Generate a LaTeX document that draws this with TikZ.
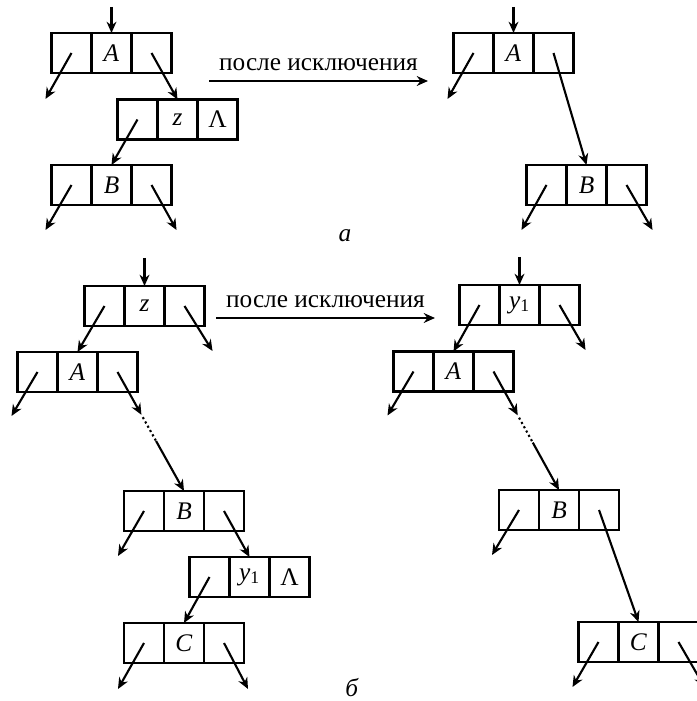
\documentclass[tikz,border=0pt]{standalone}
\usepackage{fontspec}
\setmainfont{Liberation Serif}
\usetikzlibrary{arrows.meta,positioning,calc}

% one list element: three cells, name, position, key, right cell text
\newcommand{\listnode}[4][]{%
  \node[cell] (#2m) at (#3) {#4};
  \node[cell,left=0pt of #2m] (#2l) {};
  \node[cell,right=0pt of #2m] (#2r) {#1};}

\begin{document}
\begin{tikzpicture}[x=0.025cm,y=-0.025cm,line width=1.5pt,
  cell/.style={draw,minimum size=1cm,outer sep=0pt,inner sep=0pt,font=\fontsize{18}{20}\selectfont},
  ptr/.style={-{Stealth[length=8pt,width=7pt]}},
  every node/.append style={font=\fontsize{18}{21}\selectfont}]
  \useasboundingbox (0,0) rectangle (696,701);

  % (a) before
  \listnode{pa}{111.5,53}{\textit{A}}
  \listnode[Λ]{pz}{177.5,119.5}{\textit{z}}
  \listnode{pb}{111.5,185}{\textit{B}}
  \draw[ptr] ([yshift=0.65cm]pam.north) -- (pam.north);
  \draw[ptr] (pal.center) -- ++(-26,46);
  \draw[ptr] (par.center) -- (pzm.north);
  \draw[ptr] (pzl.center) -- (pbm.north);
  \draw[ptr] (pbl.center) -- ++(-26,45);
  \draw[ptr] (pbr.center) -- ++(25,45);

  \coordinate (t1) at (209,81);
  \coordinate (t2) at (428,81);
  \draw[ptr] (t1) -- node[above=3pt] (ex1) {после исключения} (t2);

  % (a) after
  \listnode{qa}{513.5,53}{\textit{A}}
  \listnode{qb}{586.5,185}{\textit{B}}
  \draw[ptr] ([yshift=0.65cm]qam.north) -- (qam.north);
  \draw[ptr] (qal.center) -- ++(-26,46);
  \draw[ptr] (qar.center) -- (qbm.north);
  \draw[ptr] (qbl.center) -- ++(-25,45);
  \draw[ptr] (qbr.center) -- ++(26,45);

  \node (la) at (345,236) {\textit{а}};

  % (b) before
  \listnode{rz}{144.5,306}{\textit{z}}
  \listnode{ra}{77.5,372}{\textit{A}}
  \listnode{rb}{184,511}{\textit{B}}
  \listnode[Λ]{ry}{249.5,577}{\textit{y}\textsubscript{1}}
  \listnode{rc}{184,643}{\textit{C}}
  \draw[ptr] ([yshift=0.7cm]rzm.north) -- (rzm.north);
  \draw[ptr] (rzl.center) -- (ram.north);
  \draw[ptr] (rzr.center) -- ++(28,45);
  \draw[ptr] (ral.center) -- ++(-26,44);
  \draw[ptr] (rar.center) -- ($(rar.center)!0.36!(rbm.north)$);
  \draw[dotted] ($(rar.center)!0.38!(rbm.north)$) -- ($(rar.center)!0.58!(rbm.north)$);
  \draw[ptr] ($(rar.center)!0.58!(rbm.north)$) -- (rbm.north);
  \draw[ptr] (rbl.center) -- ++(-26,45);
  \draw[ptr] (rbr.center) -- (rym.north);
  \draw[ptr] (ryl.center) -- (rcm.north);
  \draw[ptr] (rcl.center) -- ++(-26,46);
  \draw[ptr] (rcr.center) -- ++(24,46);

  \coordinate (t3) at (216,318);
  \coordinate (t4) at (435,318);
  \draw[ptr] (t3) -- node[above=3pt] (ex2) {после исключения} (t4);

  % (b) after
  \listnode{sy}{519.5,305}{\textit{y}\textsubscript{1}}
  \listnode{sa}{453.5,371.5}{\textit{A}}
  \listnode{sb}{559,510}{\textit{B}}
  \listnode{sc}{638.5,642}{\textit{C}}
  \draw[ptr] ([yshift=0.7cm]sym.north) -- (sym.north);
  \draw[ptr] (syl.center) -- (sam.north);
  \draw[ptr] (syr.center) -- ++(26,45);
  \draw[ptr] (sal.center) -- ++(-26,44);
  \draw[ptr] (sar.center) -- ($(sar.center)!0.37!(sbm.north)$);
  \draw[dotted] ($(sar.center)!0.39!(sbm.north)$) -- ($(sar.center)!0.6!(sbm.north)$);
  \draw[ptr] ($(sar.center)!0.6!(sbm.north)$) -- (sbm.north);
  \draw[ptr] (sbl.center) -- ++(-27,45);
  \draw[ptr] (sbr.center) -- (scm.north);
  \draw[ptr] (scl.center) -- ++(-26,45);
  \draw[ptr] (scr.center) -- ++(26,45);

  \node (lb) at (352,688) {\textit{б}};
\end{tikzpicture}
\end{document}
